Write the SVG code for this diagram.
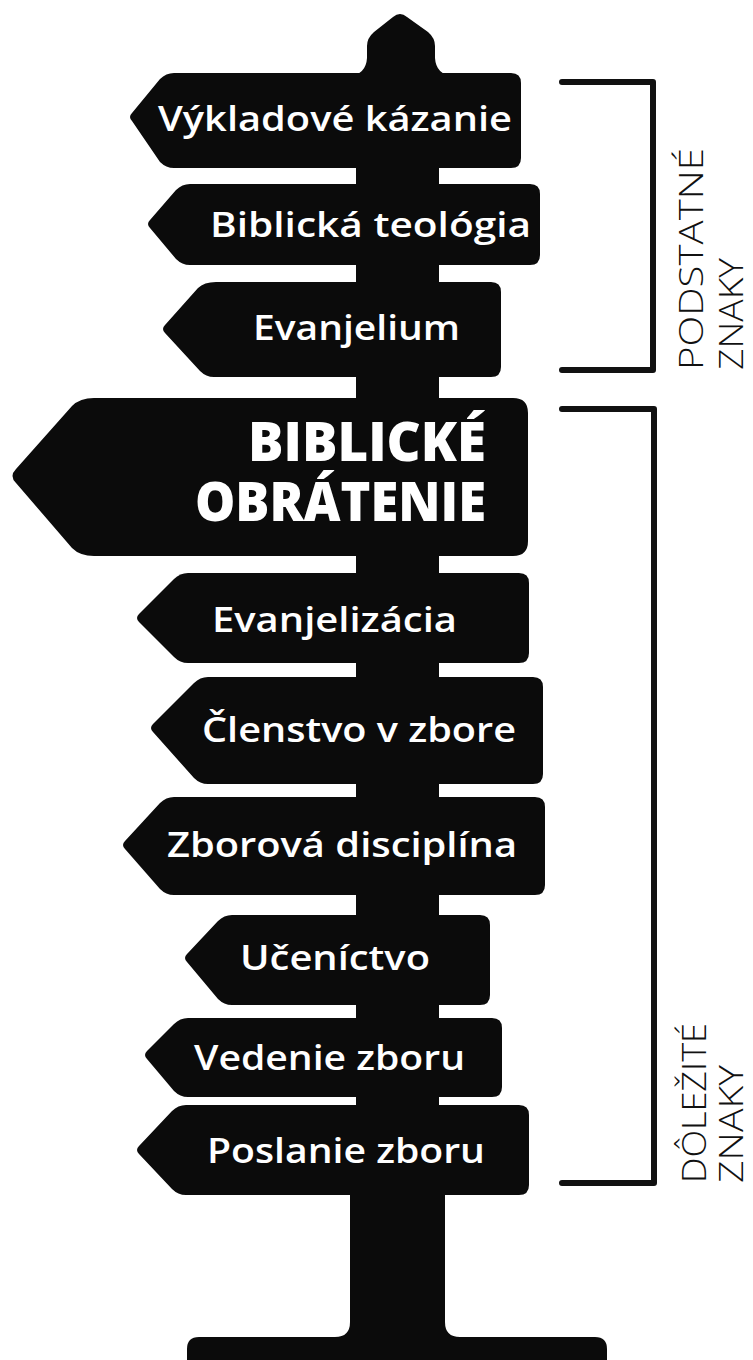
<svg xmlns="http://www.w3.org/2000/svg" width="753" height="1360" viewBox="0 0 753 1360">
<style>
.post{fill:#0b0b0b}
.sign{fill:#0b0b0b}
.lbl{fill:#ffffff;font-family:"Open Sans","Noto Sans","Liberation Sans",sans-serif;font-weight:600;font-size:35px}
.big{fill:#ffffff;font-family:"Open Sans","Noto Sans","Liberation Sans",sans-serif;font-weight:800;font-size:54px}
.side{fill:#111111;font-family:"Open Sans","Noto Sans","Liberation Sans",sans-serif;font-weight:300;font-size:33px}
.br{stroke:#111111;stroke-width:6;fill:none;stroke-linecap:round;stroke-linejoin:round}
</style>
<rect width="753" height="1360" fill="#ffffff"/>
<g id="post">
<path class="post" d="M350 76 Q366 74 367 58 L367 46 Q367 38 374 32 L393 17 Q400 11 407 17 L428 32 Q435 38 435 46 L435 58 Q436 74 452 76 Z"/>
<rect class="post" x="356" y="150" width="83" height="1060"/>
<path class="post" d="M350 1190 L350 1322 Q350 1337 335 1337 L199 1337 Q187 1337 187 1349 L187 1365 L607 1365 L607 1349 Q607 1337 595 1337 L460 1337 Q445 1337 445 1322 L445 1190 Z"/>
</g>
<g id="sign-vykladove">
<path class="sign" d="M174 73 L511 73 Q521 73 521 83 L521 158 Q521 168 511 168 L174 168 Q166 168 160 162 L132 121 Q128 117 132 113 L160 79 Q166 73 174 73 Z"/>
<text class="lbl" x="158" y="131" textLength="354" lengthAdjust="spacingAndGlyphs">Výkladové kázanie</text>
</g>
<g id="sign-biblicka-teologia">
<path class="sign" d="M190 184 L530 184 Q540 184 540 194 L540 255 Q540 265 530 265 L190 265 Q182 265 176 259 L150 228 Q146 224 150 220 L176 190 Q182 184 190 184 Z"/>
<text class="lbl" x="210" y="237" textLength="321" lengthAdjust="spacingAndGlyphs">Biblická teológia</text>
</g>
<g id="sign-evanjelium">
<path class="sign" d="M216 282 L491 282 Q501 282 501 292 L501 367 Q501 377 491 377 L214 377 Q206 377 200 371 L165 333 Q161 329 165 325 L198 288 Q204 282 216 282 Z"/>
<text class="lbl" x="253" y="340" textLength="207" lengthAdjust="spacingAndGlyphs">Evanjelium</text>
</g>
<g id="sign-biblicke-obratenie">
<path class="sign" d="M94 398 L513 398 Q528 398 528 413 L528 541 Q528 556 513 556 L94 556 Q80 556 72 548 L16 483 Q9 476 16 469 L72 406 Q80 398 94 398 Z"/>
<text class="big"><tspan x="248" y="461" textLength="238" lengthAdjust="spacingAndGlyphs">BIBLICKÉ</tspan><tspan x="195" y="521" textLength="291" lengthAdjust="spacingAndGlyphs">OBRÁTENIE</tspan></text>
</g>
<g id="sign-evanjelizacia">
<path class="sign" d="M188 573 L519 573 Q529 573 529 583 L529 653 Q529 663 519 663 L188 663 Q180 663 174 657 L139 622 Q135 618 139 614 L174 579 Q180 573 188 573 Z"/>
<text class="lbl" x="212" y="632" textLength="245" lengthAdjust="spacingAndGlyphs">Evanjelizácia</text>
</g>
<g id="sign-clenstvo">
<path class="sign" d="M208 677 L533 677 Q543 677 543 687 L543 774 Q543 784 533 784 L208 784 Q200 784 194 778 L153 732 Q149 728 153 724 L194 683 Q200 677 208 677 Z"/>
<text class="lbl" x="202" y="742" textLength="314" lengthAdjust="spacingAndGlyphs">Členstvo v zbore</text>
</g>
<g id="sign-disciplina">
<path class="sign" d="M174 797 L535 797 Q545 797 545 807 L545 885 Q545 895 535 895 L174 895 Q166 895 160 889 L125 849 Q121 845 125 841 L160 803 Q166 797 174 797 Z"/>
<text class="lbl" x="167" y="857" textLength="350" lengthAdjust="spacingAndGlyphs">Zborová disciplína</text>
</g>
<g id="sign-ucenictvo">
<path class="sign" d="M232 915 L480 915 Q490 915 490 925 L490 995 Q490 1005 480 1005 L232 1005 Q224 1005 218 999 L187 962 Q183 958 187 954 L218 921 Q224 915 232 915 Z"/>
<text class="lbl" x="240" y="970" textLength="190" lengthAdjust="spacingAndGlyphs">Učeníctvo</text>
</g>
<g id="sign-vedenie">
<path class="sign" d="M188 1018 L492 1018 Q502 1018 502 1028 L502 1087 Q502 1097 492 1097 L188 1097 Q180 1097 174 1091 L147 1059 Q143 1055 147 1051 L174 1024 Q180 1018 188 1018 Z"/>
<text class="lbl" x="194" y="1070" textLength="271" lengthAdjust="spacingAndGlyphs">Vedenie zboru</text>
</g>
<g id="sign-poslanie">
<path class="sign" d="M186 1105 L519 1105 Q529 1105 529 1115 L529 1185 Q529 1195 519 1195 L186 1195 Q178 1195 172 1189 L139 1154 Q135 1150 139 1146 L172 1111 Q178 1105 186 1105 Z"/>
<text class="lbl" x="207" y="1163" textLength="278" lengthAdjust="spacingAndGlyphs">Poslanie zboru</text>
</g>
<g id="connectors">
<path class="br" d="M562 82 L653 82 L653 370 L562 370"/>
<path class="br" d="M562 409 L654 409 L654 1183 L562 1183"/>
</g>
<g id="label-podstatne">
<text class="side" transform="translate(703,370) rotate(-90)" x="0" y="0" textLength="222" lengthAdjust="spacingAndGlyphs">PODSTATNÉ</text>
<text class="side" transform="translate(743,370) rotate(-90)" x="0" y="0" textLength="112" lengthAdjust="spacingAndGlyphs">ZNAKY</text>
</g>
<g id="label-dolezite">
<text class="side" transform="translate(706,1183) rotate(-90)" x="0" y="0" textLength="160" lengthAdjust="spacingAndGlyphs">DÔLEŽITÉ</text>
<text class="side" transform="translate(743,1183) rotate(-90)" x="0" y="0" textLength="118" lengthAdjust="spacingAndGlyphs">ZNAKY</text>
</g>
</svg>
